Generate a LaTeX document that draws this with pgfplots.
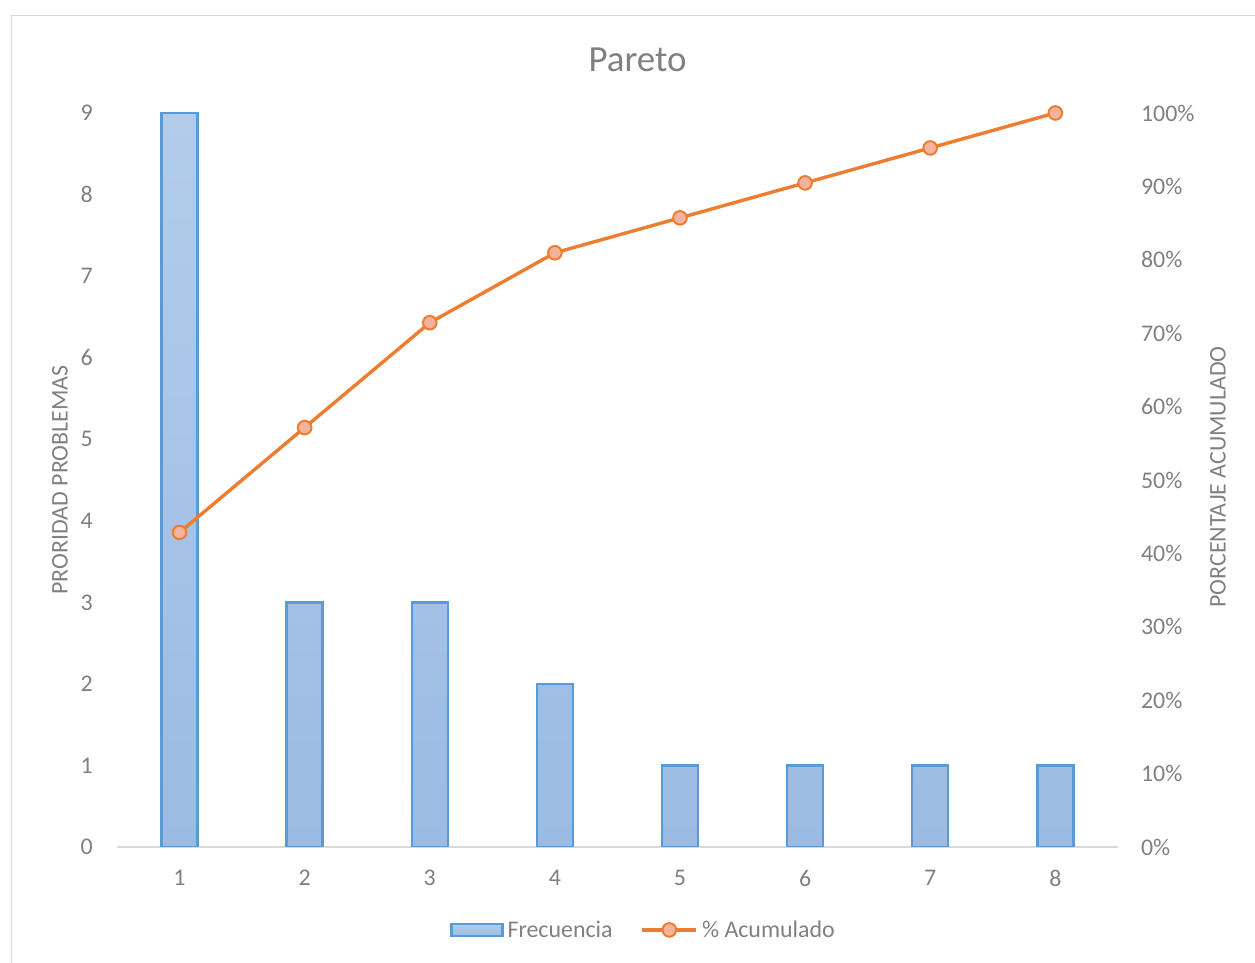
\documentclass[border=0pt]{standalone}
\usepackage{fontspec}
\setmainfont{Carlito}
\usepackage{pgfplots}
\pgfplotsset{compat=1.18}
\definecolor{txt}{HTML}{808080}
\definecolor{frame}{HTML}{D9D9D9}
\definecolor{barborder}{HTML}{5B9BD5}
\definecolor{bartop}{HTML}{B3CCEA}
\definecolor{barbot}{HTML}{9BBBE4}
\definecolor{lineor}{HTML}{ED7D31}
\definecolor{markfill}{HTML}{F4B39C}
\pgfplotsset{
  mylinelegend/.style={legend image code/.code={\draw[mark repeat=2,mark phase=2,##1] plot coordinates {(0bp,0bp) (27bp,0bp) (54bp,0bp)};}},
  mybarlegend/.style={legend image code/.code={\draw[draw=barborder,line width=2.4bp,top color=bartop,bottom color=barbot] (0bp,-6bp) rectangle (51bp,6bp);}},
}
\pgfplotstableread{
x f
1 9
2 3
3 3
4 2
5 1
6 1
7 1
8 1
}\freq
\pgfplotstableread{
x c
1 0.428571
2 0.571429
3 0.714286
4 0.809524
5 0.857143
6 0.904762
7 0.952381
8 1.000000
}\cum
\newcommand{\fs}{\fontsize{24}{28}\selectfont}
\begin{document}
\begin{tikzpicture}[x=1bp,y=1bp]
\useasboundingbox (0,0) rectangle (1255,963);
\draw[color=frame, line width=1.8bp] (11.5,-10) -- (11.5,947.5) -- (1275,947.5);
\node[anchor=base, text=txt, font=\fontsize{37}{40}\selectfont] at (637.5,891) {Pareto};
\node[rotate=90, text=txt, font=\fs] at (60,483) {PRORIDAD PROBLEMAS};
\node[rotate=90, text=txt, font=\fs] at (1218,486) {PORCENTAJE ACUMULADO};
\begin{axis}[
  at={(117bp,116bp)}, anchor=south west,
  scale only axis, width=1001bp, height=734bp,
  xmin=0.5, xmax=8.5, ymin=0, ymax=9,
  xtick={1,...,8}, ytick={0,...,9},
  major tick length=0pt,
  axis x line*=bottom, axis y line*=left,
  x axis line style={draw=frame, line width=1.6bp, -},
  y axis line style={draw=none},
  ticklabel style={font=\fs, text=txt},
  /pgf/number format/assume math mode=true,
  yticklabel style={anchor=east, inner sep=0pt, xshift=-24bp},
  xticklabel style={anchor=north, inner sep=0pt, yshift=-23bp},
  ybar, bar width=36bp,
]
\addplot[draw=barborder, line width=2.4bp, top color=bartop, bottom color=barbot] table[x=x,y=f] {\freq};
\end{axis}
\begin{axis}[
  at={(117bp,116bp)}, anchor=south west,
  scale only axis, width=1001bp, height=734bp,
  xmin=0.5, xmax=8.5, ymin=0, ymax=1,
  ytick={0,0.1,...,1.0},
  major tick length=0pt,
  axis x line=none, axis y line*=right,
  y axis line style={draw=none},
  ticklabel style={font=\fs, text=txt},
  /pgf/number format/assume math mode=true,
  yticklabel={\pgfmathparse{\tick*100}\pgfmathprintnumber[fixed,precision=0]{\pgfmathresult}\%},
  yticklabel style={anchor=west, inner sep=0pt, xshift=23bp},
  legend style={at={(0.527,-0.113)}, anchor=center, draw=none, fill=none,
    legend columns=2, font=\fs, text=txt,
    nodes={inner xsep=4bp, inner ysep=0pt},
    /tikz/every even column/.append style={column sep=24bp}},
  legend cell align=left,
]
\addlegendimage{mybarlegend}
\addlegendentry{Frecuencia}
\addplot[color=lineor, line width=3.4bp, mark=*, mark size=6.8bp,
  mark options={fill=markfill, draw=lineor, line width=2bp}, mylinelegend]
  table[x=x,y=c] {\cum};
\addlegendentry{\% Acumulado}
\end{axis}
\end{tikzpicture}
\end{document}
